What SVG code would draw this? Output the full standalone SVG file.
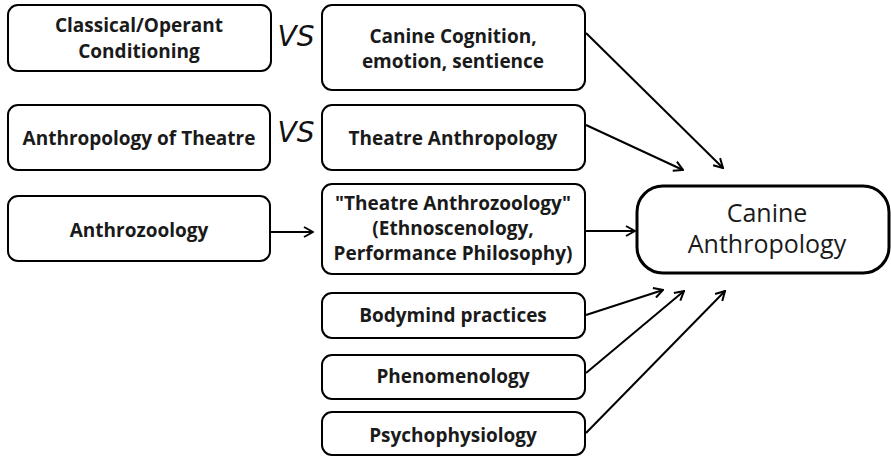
<svg xmlns="http://www.w3.org/2000/svg" width="891" height="456" viewBox="0 0 891 456">
<defs>
<style>
.box{fill:#fff;stroke:#000;stroke-width:2}
.t{font-family:"Open Sans","Liberation Sans",sans-serif;font-weight:bold;font-size:19px;fill:#1a1a1a;text-anchor:middle}
.big{font-family:"Open Sans","Liberation Sans",sans-serif;font-size:25px;fill:#1a1a1a;text-anchor:middle}
.vs{font-family:"DejaVu Sans","Liberation Sans",sans-serif;font-style:italic;font-weight:200;font-size:28px;fill:#111;text-anchor:middle}
.c{stroke:#000;stroke-width:2;fill:none;marker-end:url(#ah)}
</style>
<marker id="ah" viewBox="0 0 12 12" refX="11" refY="6" markerWidth="12" markerHeight="12" markerUnits="userSpaceOnUse" orient="auto">
<path d="M2,1 L11,6 L2,11" fill="none" stroke="#000" stroke-width="2"/>
</marker>
</defs>
<rect width="891" height="456" fill="#fff"/>
<g id="connectors">
<line class="c" x1="586" y1="33" x2="723" y2="168"/>
<line class="c" x1="586" y1="125" x2="683" y2="170"/>
<line class="c" x1="271" y1="232" x2="313" y2="232"/>
<line class="c" x1="586" y1="231" x2="635" y2="231"/>
<line class="c" x1="586" y1="315" x2="663" y2="290"/>
<line class="c" x1="586" y1="373" x2="684" y2="291"/>
<line class="c" x1="586" y1="433" x2="725" y2="291"/>
</g>
<g id="n1"><rect class="box" x="8" y="5" width="263" height="66" rx="10"/><text class="t" x="139" y="32">Classical/Operant</text><text class="t" x="139" y="58">Conditioning</text></g>
<g id="n2"><rect class="box" x="8" y="105" width="262" height="65" rx="10"/><text class="t" x="139" y="145">Anthropology of Theatre</text></g>
<g id="n3"><rect class="box" x="8" y="196" width="262" height="65" rx="10"/><text class="t" x="139" y="237">Anthrozoology</text></g>
<g id="vs1"><text class="vs" x="296" y="46">VS</text></g>
<g id="vs2"><text class="vs" x="296" y="142">VS</text></g>
<g id="n4"><rect class="box" x="322" y="5" width="263" height="85" rx="10"/><text class="t" x="453" y="43">Canine Cognition,</text><text class="t" x="453" y="68">emotion, sentience</text></g>
<g id="n5"><rect class="box" x="322" y="105" width="263" height="65" rx="10"/><text class="t" x="453" y="145">Theatre Anthropology</text></g>
<g id="n6"><rect class="box" x="322" y="184" width="263" height="90" rx="10"/><text class="t" x="453" y="210">"Theatre Anthrozoology"</text><text class="t" x="453" y="235">(Ethnoscenology,</text><text class="t" x="453" y="260">Performance Philosophy)</text></g>
<g id="n7"><rect class="box" x="322" y="293" width="263" height="45" rx="10"/><text class="t" x="453" y="322">Bodymind practices</text></g>
<g id="n8"><rect class="box" x="322" y="355" width="263" height="44" rx="10"/><text class="t" x="453" y="383">Phenomenology</text></g>
<g id="n9"><rect class="box" x="322" y="412" width="263" height="43" rx="10"/><text class="t" x="453" y="442">Psychophysiology</text></g>
<g id="n10"><rect class="box" x="637" y="186" width="252" height="87" rx="26" style="stroke-width:3"/><text class="big" x="767" y="222">Canine</text><text class="big" x="767" y="253">Anthropology</text></g>
</svg>
